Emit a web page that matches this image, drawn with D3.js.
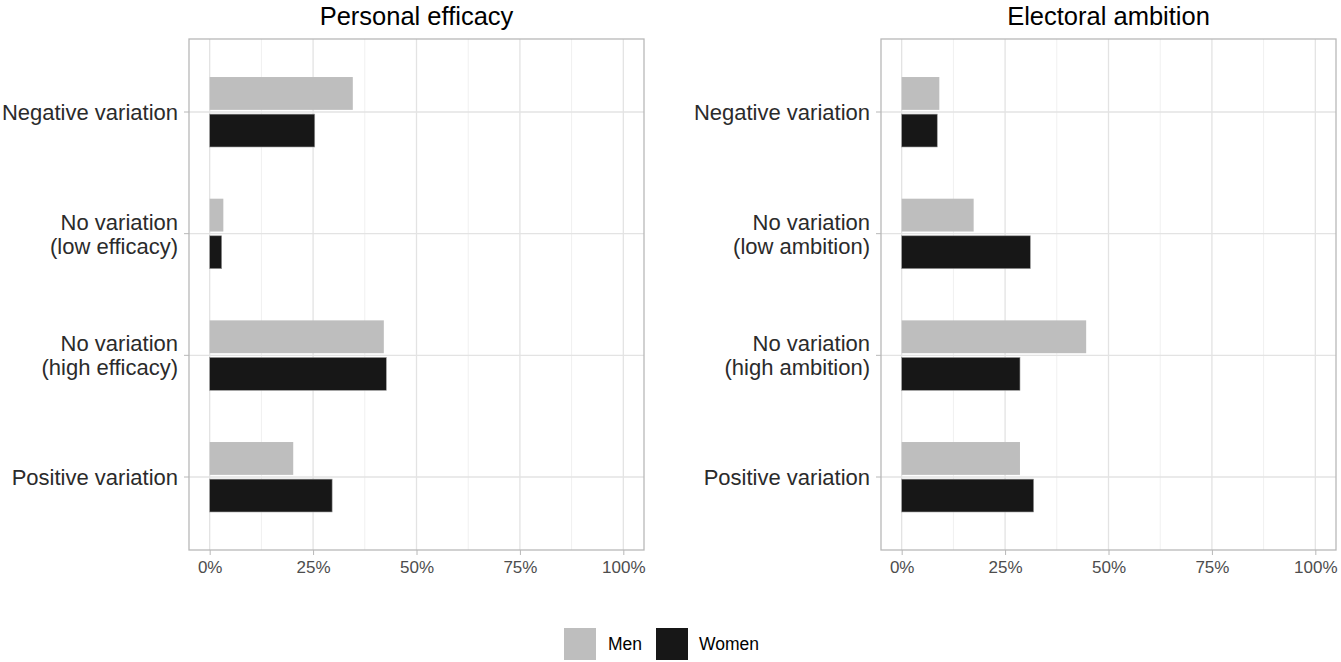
<!DOCTYPE html>
<html><head><meta charset="utf-8">
<script src="https://cdn.jsdelivr.net/npm/d3@7"></script>
<style>body{margin:0;background:#fff}svg{display:block;font-family:"Liberation Sans",Arial,sans-serif}</style>
</head><body><svg id="c" width="1341" height="662"></svg>
<script>
const panelTitles = ["Personal efficacy", "Electoral ambition"];
const categoriesEfficacy = ["Negative variation", "No variation\n(low efficacy)", "No variation\n(high efficacy)", "Positive variation"];
const categoriesAmbition = ["Negative variation", "No variation\n(low ambition)", "No variation\n(high ambition)", "Positive variation"];
const seriesNames = ["Men", "Women"];
const efficacyMen   = [0.346, 0.033, 0.421, 0.202];
const efficacyWomen = [0.254, 0.029, 0.427, 0.296];
const ambitionMen   = [0.091, 0.174, 0.446, 0.286];
const ambitionWomen = [0.086, 0.311, 0.286, 0.319];
const xTicks = [0, 0.25, 0.5, 0.75, 1];
const xMinor = [0.125, 0.375, 0.625, 0.875];
const colors = {Men: "#bebebe", Women: "#171717"};

const svg = d3.select("#c");
const panels = [
  {title: panelTitles[0], cats: categoriesEfficacy, men: efficacyMen, women: efficacyWomen, x0: 189, x1: 644},
  {title: panelTitles[1], cats: categoriesAmbition, men: ambitionMen, women: ambitionWomen, x0: 881, x1: 1336}
];
const pTop = 39, pBottom = 550;

panels.forEach(p => {
  const g = svg.append("g");
  const x = d3.scaleLinear().domain([-0.05, 1.05]).range([p.x0, p.x1]);
  const y = d3.scalePoint().domain(p.cats).range([pTop, pBottom]).padding(0.6);
  const step = y.step();
  const cy = c => y(c);
  // grid
  g.selectAll(".minor").data(xMinor).join("line")
    .attr("x1", d => x(d)).attr("x2", d => x(d)).attr("y1", pTop).attr("y2", pBottom)
    .attr("stroke", "#f0f0f0").attr("stroke-width", 1);
  g.selectAll(".major").data(xTicks).join("line")
    .attr("x1", d => x(d)).attr("x2", d => x(d)).attr("y1", pTop).attr("y2", pBottom)
    .attr("stroke", "#e3e3e3").attr("stroke-width", 1.3);
  g.selectAll(".hmajor").data(p.cats).join("line")
    .attr("x1", p.x0).attr("x2", p.x1).attr("y1", d => cy(d)).attr("y2", d => cy(d))
    .attr("stroke", "#e3e3e3").attr("stroke-width", 1.3);
  // bars
  const barH = step * 0.27, gap = step * 0.035;
  const rows = p.cats.map((c, i) => ({c, men: p.men[i], women: p.women[i]}));
  g.selectAll(".men").data(rows).join("rect")
    .attr("x", x(0)).attr("width", d => x(d.men) - x(0))
    .attr("y", d => cy(d.c) - gap/2 - barH).attr("height", barH)
    .attr("fill", colors.Men);
  g.selectAll(".women").data(rows).join("rect")
    .attr("x", x(0)).attr("width", d => x(d.women) - x(0))
    .attr("y", d => cy(d.c) + gap/2).attr("height", barH)
    .attr("fill", colors.Women).attr("stroke", "#9a9a9a").attr("stroke-width", 0.6);
  // border
  g.append("rect").attr("x", p.x0).attr("y", pTop).attr("width", p.x1 - p.x0).attr("height", pBottom - pTop)
    .attr("fill", "none").attr("stroke", "#b8b8b8").attr("stroke-width", 1.3);
  // x axis
  const xa = g.append("g").attr("transform", `translate(0,${pBottom})`)
    .call(d3.axisBottom(x).tickValues(xTicks).tickFormat(d3.format(".0%")).tickSize(5).tickPadding(6));
  xa.select(".domain").remove();
  xa.selectAll("line").attr("stroke", "#b8b8b8");
  xa.selectAll("text").attr("font-size", 17).attr("fill", "#4d4d4d").attr("font-family", "Liberation Sans, Arial, sans-serif");
  // y ticks
  g.selectAll(".yt").data(p.cats).join("line")
    .attr("x1", p.x0 - 5).attr("x2", p.x0).attr("y1", d => cy(d)).attr("y2", d => cy(d))
    .attr("stroke", "#b8b8b8");
  // y labels
  p.cats.forEach(c => {
    const lines = c.split("\n");
    const t = g.append("text").attr("text-anchor", "end").attr("font-size", 22).attr("fill", "#2b2b2b");
    lines.forEach((ln, i) => {
      t.append("tspan").attr("x", p.x0 - 11)
        .attr("y", cy(c) + (i - (lines.length - 1) / 2) * 24 + 8).text(ln);
    });
  });
  // title
  svg.append("text").attr("x", (x(0) + x(1)) / 2).attr("y", 25).attr("text-anchor", "middle")
    .attr("font-size", 25.5).attr("fill", "#000").text(p.title);
});

// legend
const leg = svg.append("g");
const legItems = [{n: seriesNames[0], kx: 564, tx: 608}, {n: seriesNames[1], kx: 656, tx: 699}];
leg.selectAll("rect").data(legItems).join("rect")
  .attr("x", d => d.kx).attr("y", 628).attr("width", 32).attr("height", 32)
  .attr("fill", d => colors[d.n]);
leg.selectAll("text").data(legItems).join("text")
  .attr("x", d => d.tx).attr("y", 650).attr("font-size", 17.5).attr("fill", "#000").text(d => d.n);
</script></body></html>
